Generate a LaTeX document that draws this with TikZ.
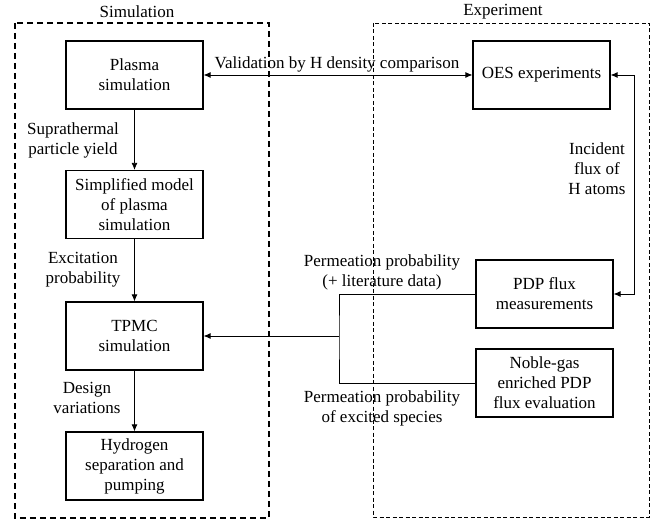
\documentclass[tikz,border=0pt]{standalone}
\usepackage{fontspec}
\setmainfont{Liberation Serif}
\usetikzlibrary{arrows.meta}

\begin{document}
\begin{tikzpicture}[x=1pt, y=-1pt,
    box/.style={draw, line width=1.2pt, minimum width=137pt, minimum height=68pt,
                inner sep=0pt, align=center, font=\fontsize{17}{20}\selectfont},
    lbl/.style={align=center, inner sep=0pt, font=\fontsize{17}{20}\selectfont},
    arr/.style={line width=0.8pt, -{Latex[length=7pt,width=6pt]}},
    arrboth/.style={line width=0.8pt, {Latex[length=7pt,width=6pt]}-{Latex[length=7pt,width=6pt]}}]
    \useasboundingbox (0,0) rectangle (656,521);

    % frames
    \draw[line width=1.5pt, dash pattern=on 6pt off 4pt] (15,23) rectangle (269,518);
    \draw[line width=0.8pt, dash pattern=on 4pt off 2.5pt] (373,23) rectangle (649,517);
    \node[lbl] (simtitle) at (137,12) {Simulation};
    \node[lbl] (exptitle) at (503,12) {Experiment};

    % simulation column
    \node[box] (plasma) at (134.5,75)  {Plasma\\simulation};
    \node[box] (simp)   at (134.5,204.5) {Simplified model\\of plasma\\simulation};
    \node[box] (tpmc)   at (134.5,336) {TPMC\\simulation};
    \node[box] (hyd)    at (134.5,466) {Hydrogen\\separation and\\pumping};

    % experiment column
    \node[box] (oes)   at (541.5,75)  {OES experiments};
    \node[box] (pdp)   at (544.5,294) {PDP flux\\measurements};
    \node[box] (noble) at (544.5,383) {Noble-gas\\enriched PDP\\flux evaluation};

    \coordinate (fx) at (634,0);
    \coordinate (jn) at (339,336);

    % connectors
    \draw[arr] (plasma) -- (simp);
    \draw[arr] (simp) -- (tpmc);
    \draw[arr] (tpmc) -- (hyd);
    \draw[arrboth] (plasma) -- (oes);
    \draw[arrboth] (oes.east) -- (oes.east -| fx) -- (pdp.east -| fx) -- (pdp.east);
    \draw[line width=0.8pt] (pdp.west) -| (jn) |- (noble.west);
    \draw[arr] (jn) -- (tpmc.east);

    % labels
    \node[lbl, anchor=south] (valid) at (337,72) {Validation by H density comparison};
    \node[lbl] (supra) at (73,140)  {Suprathermal\\particle yield};
    \node[lbl] (excit) at (83,270)  {Excitation\\probability};
    \node[lbl] (design) at (87,398) {Design\\variations};
    \node[lbl] (incid) at (597,169) {Incident\\flux of\\H atoms};
    \node[lbl] (perm) at (382,272)  {Permeation probability\\(+ literature data)};
    \node[lbl] (permx) at (382,408) {Permeation probability\\of excited species};
\end{tikzpicture}
\end{document}
